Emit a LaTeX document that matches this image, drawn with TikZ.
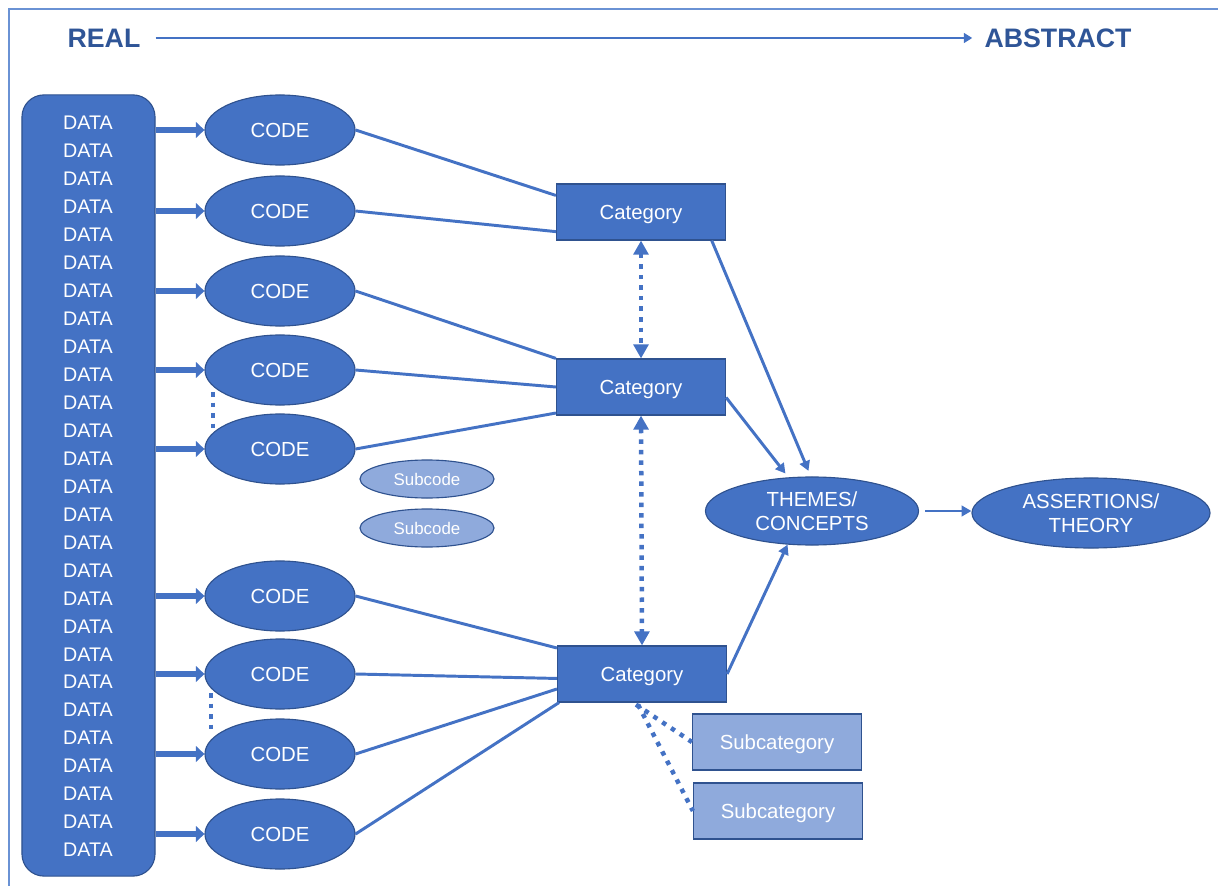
\documentclass[tikz,border=0pt]{standalone}
\usepackage{fontspec}
\setmainfont{Liberation Sans}
\definecolor{qblue}{HTML}{4472C4}
\definecolor{qedge}{HTML}{2F528F}
\definecolor{qlight}{HTML}{8FAADC}
\definecolor{qtitle}{HTML}{2F5597}
\definecolor{qframe}{HTML}{6A92D4}
\usetikzlibrary{arrows.meta,positioning,shapes.geometric,calc}
\tikzset{
  codenode/.style={ellipse, draw=qedge, fill=qblue, line width=0.8pt, text=white, inner sep=0pt,
    minimum width=3.75cm, minimum height=1.75cm, font=\fontsize{14.5}{17.4}\selectfont, align=center},
  subcodenode/.style={ellipse, draw=qedge, fill=qlight, line width=0.8pt, text=white, inner sep=0pt,
    minimum width=3.35cm, minimum height=0.95cm, font=\fontsize{12}{14}\selectfont},
  catnode/.style={rectangle, draw=qedge, fill=qblue, line width=0.8pt, text=white, text depth=0pt,
    minimum width=4.225cm, minimum height=1.4cm, font=\fontsize{14.5}{17.4}\selectfont},
  subcatnode/.style={catnode, fill=qlight},
  datatext/.style={text=white, inner sep=0pt, font=\fontsize{14}{16}\selectfont},
  titletext/.style={text=qtitle, inner sep=0pt, font=\fontsize{19}{22}\selectfont\bfseries},
  link/.style={qblue, line width=2.1pt},
  flow/.style={link, -{Triangle[width=7.5pt,length=7pt]}},
  feed/.style={qblue, line width=4.2pt, -{Triangle[width=11pt,length=6pt]}},
  dots/.style={qblue, line width=3.2pt, dash pattern=on 3.2pt off 4.3pt},
  twoway/.style={dots, {Triangle[width=10.5pt,length=10pt]}-{Triangle[width=10.5pt,length=10pt]}}
}
\begin{document}
\begin{tikzpicture}[x=0.025cm, y=-0.025cm]
  \useasboundingbox (0,0) rectangle (1218,886);
  % frame
  \draw[qframe, line width=1.2pt] (9,9) rectangle (1240,905);

  %--- Real -> Abstract ---
  \node[titletext] (real) at (104,38) {REAL};
  \node[titletext] (abstract) at (1058,38) {ABSTRACT};
  \draw[qblue, line width=1.8pt, -{Triangle[width=7pt,length=6pt]}, shorten <=0.375cm, shorten >=0.3cm] (real.east) -- (abstract.west);

  %--- Data column ---
  \node[draw=qedge, fill=qblue, line width=0.8pt, rounded corners=0.55cm, minimum width=3.325cm, minimum height=19.525cm] (data) at (88.5,485.5) {};
  \foreach \i in {0,...,26}
    \node[datatext] (d\i) at (88,{123+27.96*\i}) {DATA};

  %--- Codes ---
  \node[codenode] (c1) at (280,130) {CODE};
  \node[codenode] (c2) at (280,211) {CODE};
  \node[codenode] (c3) at (280,291) {CODE};
  \node[codenode] (c4) at (280,370) {CODE};
  \node[codenode] (c5) at (280,449) {CODE};
  \node[codenode] (c6) at (280,596) {CODE};
  \node[codenode] (c7) at (280,674) {CODE};
  \node[codenode] (c8) at (280,754) {CODE};
  \node[codenode] (c9) at (280,834) {CODE};

  \foreach \c in {c1,c2,c3,c4,c5,c6,c7,c8,c9}
    \draw[feed] (data.east |- \c) -- (\c.west);

  \draw[dots] ($(c4.center)+(-67,22)$) -- ($(c5.center)+(-67,-21)$);
  \draw[dots] ($(c7.center)+(-69,19)$) -- ($(c8.center)+(-69,-24)$);

  % Subcodes
  \node[subcodenode] (s1) at (427,479) {Subcode};
  \node[subcodenode] (s2) at (427,528) {Subcode};

  %--- Categories ---
  \node[catnode] (cat1) at (641,212) {Category};
  \node[catnode] (cat2) at (641,387) {Category};
  \node[catnode] (cat3) at (642,674) {Category};

  \draw[link] (c1.east) -- (cat1.169);
  \draw[link] (c2.east) -- (cat1.193);
  \draw[link] (c3.east) -- (cat2.north west);
  \draw[link] (c4.east) -- (cat2.west);
  \draw[link] (c5.east) -- (cat2.197);
  \draw[link] (c6.east) -- (cat3.163);
  \draw[link] (c7.east) -- (cat3.183);
  \draw[link] (c8.east) -- (cat3.190);
  \draw[link] (c9.east) -- (cat3.199);

  \draw[twoway] (cat1.south) -- (cat2.north);
  \draw[twoway] (cat2.south) -- (cat3.north);

  % Subcategories
  \node[subcatnode] (sc1) at (777,742) {Subcategory};
  \node[subcatnode] (sc2) at (778,811) {Subcategory};
  \draw[dots] ($(cat3.south)+(-6,2)$) -- (sc1.west);
  \draw[dots] ($(cat3.south)+(-4,2)$) -- (sc2.west);

  %--- Themes and theory ---
  \node[codenode, minimum width=5.325cm, minimum height=1.7cm] (themes) at (812,511) {THEMES/\\CONCEPTS};
  \node[codenode, minimum width=5.95cm, minimum height=1.75cm] (theory) at (1091,513) {ASSERTIONS/\\THEORY};

  \draw[flow, shorten >=0.15cm] (cat1.338) -- (themes.92);
  \draw[flow, shorten >=0.12cm] (cat2.353) -- (themes.125);
  \draw[flow] (cat3.east) -- (themes.234);
  \draw[flow, shorten <=0.15cm] (themes.east) -- (themes.east -| theory.west);
\end{tikzpicture}
\end{document}
